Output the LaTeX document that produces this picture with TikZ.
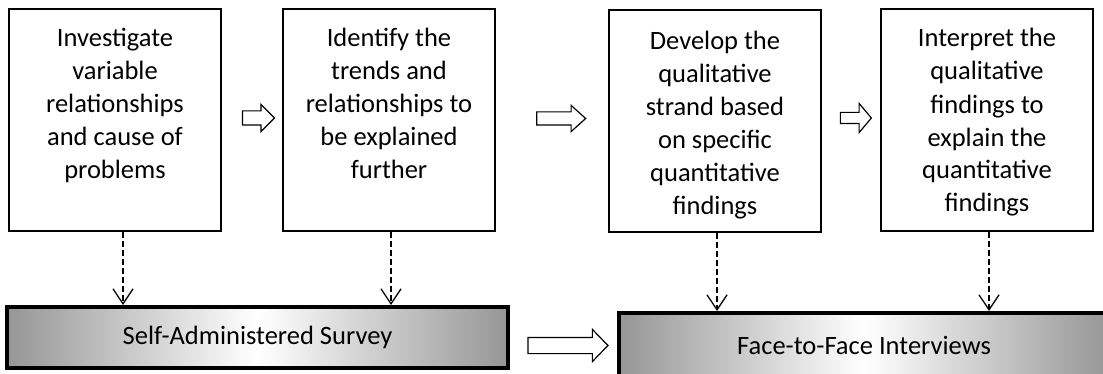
\documentclass[tikz,border=0pt]{standalone}
\usepackage{fontspec}
\setmainfont{Carlito}
\usetikzlibrary{positioning,shapes.arrows,arrows.meta}
\definecolor{bargray}{RGB}{150,150,150}
\begin{document}
\begin{tikzpicture}[x=1pt,y=-1pt,
	stepbox/.style={draw=black,line width=1.2pt,minimum width=212pt,minimum height=222pt,inner sep=0pt},
	steptext/.style={align=center,inner sep=0pt,font=\fontsize{26.5}{33}\selectfont},
	bar/.style={draw=black,line width=4pt,left color=bargray,right color=bargray,middle color=white,inner sep=0pt,font=\fontsize{26.5}{32}\selectfont},
	blockarrow/.style={single arrow,draw=black,line width=1.2pt,fill=white,inner xsep=0pt},
	link/.style={line width=1.3pt,dash pattern=on 6pt off 3pt,-{Straight Barb[length=15pt,width=20pt]}}]
	\clip (0,0) rectangle (1103,374);
	% steps
	\node[stepbox] (b1) at (115,120) {};
	\node[stepbox] (b2) at (389,120) {};
	\node[stepbox] (b3) at (715,121) {};
	\node[stepbox] (b4) at (987,120) {};
	\node[steptext,below=20pt of b1.north] (t1) {Investigate\\variable\\relationships\\and cause of\\problems};
	\node[steptext,below=20pt of b2.north] (t2) {Identify the\\trends and\\relationships to\\be explained\\further};
	\node[steptext,below=22pt of b3.north] (t3) {Develop the\\qualitative\\strand based\\on specific\\quantitative\\findings};
	\node[steptext,below=20pt of b4.north] (t4) {Interpret the\\qualitative\\findings to\\explain the\\quantitative\\findings};
	\node[blockarrow,minimum height=32pt,inner ysep=6.5pt,single arrow head extend=6.5pt,single arrow tip angle=90] (a1) at (255,118) {};
	\node[blockarrow,minimum height=49pt,inner ysep=6pt,single arrow head extend=6.5pt,single arrow tip angle=84] (a2) at (557.5,118.5) {};
	\node[blockarrow,minimum height=31pt,inner ysep=5pt,single arrow head extend=9pt,single arrow tip angle=100] (a3) at (853.5,118) {};
	% methods
	\node[bar,minimum width=501pt,minimum height=61pt] (survey) at (257.5,337.5) {Self-Administered Survey};
	\node[bar,minimum width=490pt,minimum height=64pt] (interview) at (864,345) {Face-to-Face Interviews};
	\node[blockarrow,minimum height=80pt,inner ysep=7.5pt,single arrow head extend=8pt,single arrow tip angle=92] (a4) at (564,345.5) {};
	\coordinate (d1) at ([xshift=8pt]b1.south);
	\coordinate (d2) at ([xshift=2pt]b2.south);
	\coordinate (d3) at ([xshift=2pt]b3.south);
	\coordinate (d4) at ([xshift=2pt]b4.south);
	\draw[link] (d1) -- (d1 |- survey.north);
	\draw[link] (d2) -- (d2 |- survey.north);
	\draw[link] (d3) -- (d3 |- interview.north);
	\draw[link] (d4) -- (d4 |- interview.north);
\end{tikzpicture}
\end{document}
